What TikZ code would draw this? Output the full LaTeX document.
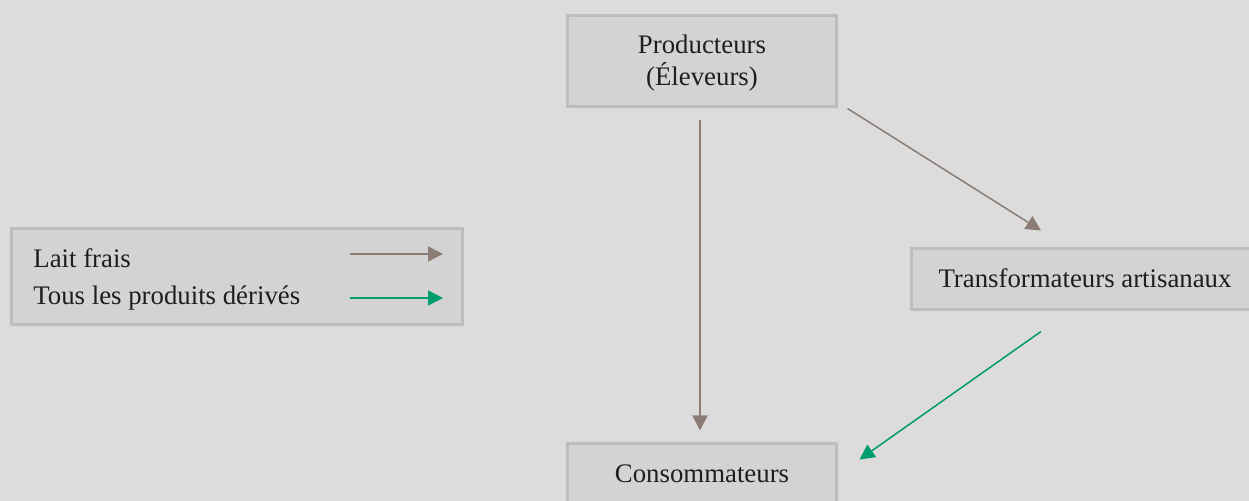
\documentclass[tikz,border=0pt]{standalone}
\usepackage{fontspec}
\setmainfont{Liberation Serif}
\usetikzlibrary{arrows.meta,calc}
\definecolor{bg}{HTML}{DCDCDC}
\definecolor{boxfill}{HTML}{D3D3D3}
\definecolor{boxline}{HTML}{BDBDBD}
\definecolor{milk}{HTML}{8B7D75}
\definecolor{deriv}{HTML}{009B6E}
\definecolor{ink}{HTML}{1E1E1E}
\begin{document}
\begin{tikzpicture}[x=0.5pt,y=-0.5pt,
  box/.style={draw=boxline,fill=boxfill,line width=1.5pt,inner sep=0pt,rectangle},
  bigbox/.style={box,minimum width=134.5pt,minimum height=45.5pt},
  lbl/.style={font=\fontsize{13.4pt}{16pt}\selectfont,text=ink,inner sep=0pt},
  milkarrow/.style={draw=milk,line width=0.75pt,-{Triangle[length=7.5pt,width=7.5pt]}},
  derivarrow/.style={draw=deriv,line width=0.75pt,-{Triangle[length=7.5pt,width=7.5pt]}}]
\fill[bg] (0,0) rectangle (1249,501);
\useasboundingbox (0,0) rectangle (1249,501);
\clip (0,0) rectangle (1249,501);
% Producteurs
\node[bigbox] (prod) at (702,61) {};
\node[lbl,anchor=base] (prodt1) at (702,54) {Producteurs};
\node[lbl,anchor=base] (prodt2) at (702,86) {(Éleveurs)};
% Legend
\node[box,minimum width=225.5pt,minimum height=48pt] (legend) at (237,276.5) {};
\node[lbl,anchor=base west] (leg1) at (33,268) {Lait frais};
\node[lbl,anchor=base west] (leg2) at (33,305) {Tous les produits dérivés};
\coordinate (l1a) at (350,254);
\coordinate (l1b) at (443,254);
\coordinate (l2a) at (350,298);
\coordinate (l2b) at (443,298);
\draw[milkarrow] (l1a) -- (l1b);
\draw[derivarrow] (l2a) -- (l2b);
% Transformateurs
\node[box,minimum width=173.5pt,minimum height=30.5pt] (trans) at (1085,279) {};
\node[lbl,anchor=base] (transt) at (1085,288) {Transformateurs artisanaux};
% Consommateurs
\node[box,minimum width=134.5pt,minimum height=30.5pt] (cons) at (702,474) {};
\node[lbl,anchor=base] (const) at (702,483) {Consommateurs};
% Connectors
\draw[milkarrow] ($(prod.south)+(-2,12.5)$) -- ($(cons.north)+(-2,-11.5)$);
\draw[milkarrow] ($(prod.south east)+(9.5,0.5)$) -- ($(trans.north)+(-44,-16.5)$);
\draw[derivarrow] ($(trans.south)+(-44,20.5)$) -- ($(cons.north east)+(21.5,17.5)$);
\end{tikzpicture}
\end{document}
